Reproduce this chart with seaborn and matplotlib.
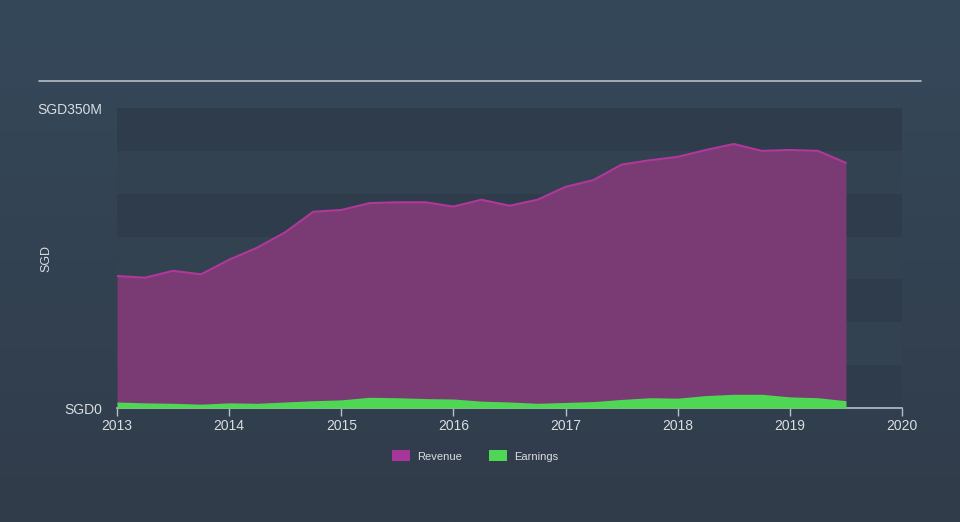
import numpy as np
import pandas as pd
import matplotlib
matplotlib.use("Agg")
import matplotlib.pyplot as plt
import seaborn as sns
from matplotlib.patches import Patch
from matplotlib.colors import LinearSegmentedColormap

# ---- data (SGD millions), quarterly ----
dates = [2013.0, 2013.25, 2013.5, 2013.75, 2014.0, 2014.25, 2014.5, 2014.75,
         2015.0, 2015.25, 2015.5, 2015.75, 2016.0, 2016.25, 2016.5, 2016.75,
         2017.0, 2017.25, 2017.5, 2017.75, 2018.0, 2018.25, 2018.5, 2018.75,
         2019.0, 2019.25, 2019.5]
revenue = [154, 152, 160, 156, 173, 187, 205, 229,
           231, 239, 240, 240, 235, 243, 236, 243,
           258, 266, 284, 289, 293, 301, 308, 300,
           301, 300, 286]
earnings = [7, 6, 5.5, 4.5, 6, 5.5, 7, 8.5,
            9.5, 12.5, 12, 11, 10.5, 8, 7, 5.5,
            6.5, 7.5, 10, 12, 11.5, 14.5, 16, 16,
            13, 12, 8.5]
year_ticks = [2013, 2014, 2015, 2016, 2017, 2018, 2019, 2020]
y_ticks = [0, 350]
y_tick_labels = ["SGD0", "SGD350M"]
series_names = ["Revenue", "Earnings"]

df = pd.DataFrame({"date": dates, "Revenue": revenue, "Earnings": earnings})

sns.set_theme(style="dark")
plt.rcParams['font.family'] = ['Liberation Sans', 'DejaVu Sans']

BG = "#333f4e"
TXT = "#d9dde2"
REV_FILL = "#7a3a74"
REV_LINE = "#b1389b"
EARN = "#4fd655"

fig = plt.figure(figsize=(9.6, 5.22), dpi=100, facecolor=BG)
grad = np.linspace(0, 1, 256).reshape(-1, 1)
bg_ax = fig.add_axes([0, 0, 1, 1], zorder=-10)
cmap = LinearSegmentedColormap.from_list("bg", ["#35485a", "#313c4a"])
bg_ax.imshow(grad, aspect="auto", cmap=cmap, extent=[0, 1, 0, 1])
bg_ax.axis("off")

ax = fig.add_axes([117/960, (522-408)/522, (902-117)/960, 300/522])
ax.set_facecolor("none")

for i, lo in enumerate(range(0, 350, 50)):
    col = "#2e3c4b" if i % 2 == 0 else "#334251"
    ax.axhspan(lo, lo + 50, color=col, zorder=0, lw=0)

ax.fill_between(df["date"], df["Revenue"], color=REV_FILL, zorder=2, lw=0)
sns.lineplot(data=df, x="date", y="Revenue", ax=ax, color=REV_LINE, lw=1.5, zorder=3)
ax.fill_between(df["date"], df["Earnings"], color=EARN, zorder=4, lw=0)

ax.set_xlim(2013, 2020)
ax.set_ylim(0, 350)
ax.set_xticks(year_ticks)
ax.set_xticklabels([str(y) for y in year_ticks], color=TXT, fontsize=10)
ax.set_yticks(y_ticks)
ax.set_yticklabels(y_tick_labels, color=TXT, fontsize=10)
ax.tick_params(axis="x", length=6, color="#b8bec6", width=1, pad=2, bottom=True)
ax.tick_params(axis="y", length=0, pad=11)
ax.set_xlabel("")
ax.set_ylabel("SGD", color=TXT, fontsize=9)
ax.yaxis.set_label_coords((52 - 117) / 785, 0.5)
for s in ["top", "right", "left"]:
    ax.spines[s].set_visible(False)
ax.spines["bottom"].set_color("#b8bec6")
ax.spines["bottom"].set_linewidth(1.2)
ax.grid(False)

fig.add_artist(plt.Line2D([39/960, 921/960], [1-81/522, 1-81/522], color="#b8bec6", lw=1.2))

handles = [Patch(facecolor="#a8369a", edgecolor="none", label=series_names[0]),
           Patch(facecolor=EARN, edgecolor="none", label=series_names[1])]
fig.legend(handles=handles, loc="center", bbox_to_anchor=(0.495, 1-456/522),
           ncol=2, frameon=False, fontsize=8, labelcolor=TXT,
           handlelength=1.6, handleheight=1.1, columnspacing=2.5, handletextpad=0.6)

fig.savefig("out.png", dpi=100, facecolor=BG)
